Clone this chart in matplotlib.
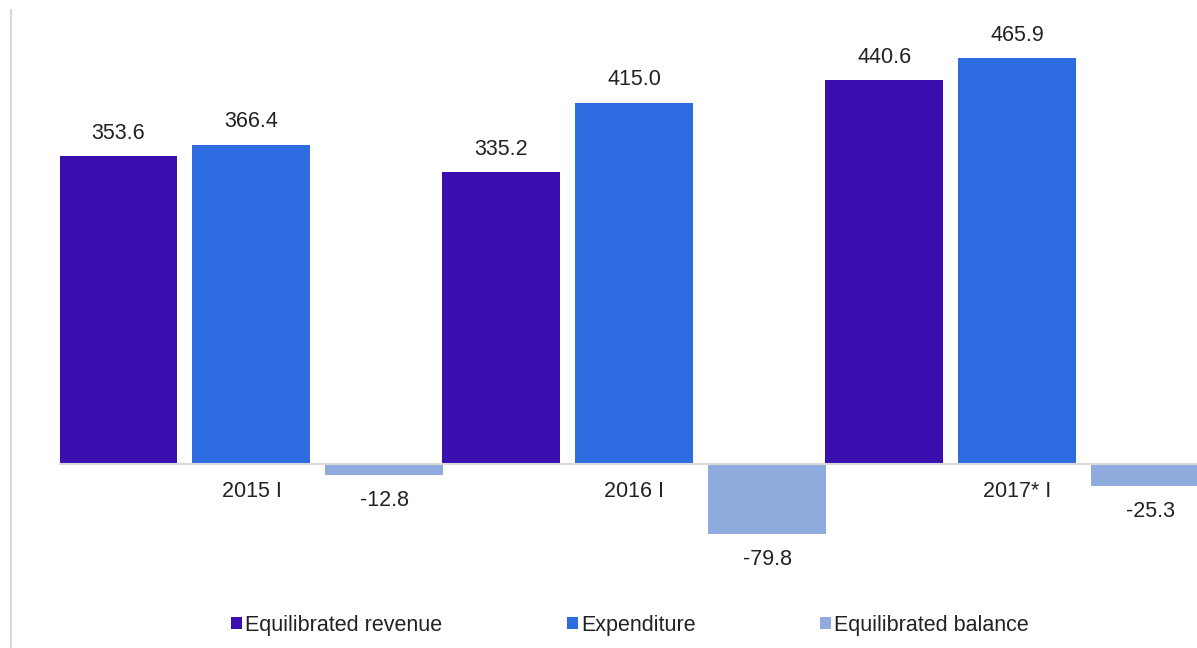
import matplotlib.pyplot as plt
import numpy as np
from matplotlib.patches import Patch
from matplotlib.lines import Line2D

plt.rcParams['font.family'] = ['Liberation Sans', 'DejaVu Sans']

# Data
categories = ['2015 I', '2016 I', '2017* I']
revenue = [353.6, 335.2, 440.6]
expenditure = [366.4, 415.0, 465.9]
balance = [-12.8, -79.8, -25.3]
series_names = ['Equilibrated revenue', 'Expenditure', 'Equilibrated balance']
colors = ['#3A0EAF', '#2C6BE0', '#8FAADC']

W, H = 1197, 648
fig = plt.figure(figsize=(W / 100, H / 100), dpi=100)

# axes spans from px x=60 to right edge, full height
ax = fig.add_axes([60 / W, 0, (W - 60) / W, 1])

# zero line at 464 px from top, 0.871 px per unit
scale = 0.871
ax.set_ylim(-(H - 464) / scale, 464 / scale)
ax.set_xlim(-0.5, 2.4687)

x = np.arange(len(categories))
bar_w = 118 / 383
step = 133 / 383

series = [revenue, expenditure, balance]
for i, (vals, col) in enumerate(zip(series, colors)):
    pos = x + (i - 1) * step
    bars = ax.bar(pos, vals, width=bar_w, color=col, label=series_names[i])
    for b, v in zip(bars, vals):
        if v >= 0:
            ax.annotate(f'{v:.1f}', (b.get_x() + b.get_width() / 2, v),
                        xytext=(0, 9), textcoords='offset points',
                        ha='center', va='bottom', fontsize=15.5, color='#222222')
        else:
            ax.annotate(f'{v:.1f}', (b.get_x() + b.get_width() / 2, v),
                        xytext=(0, -11), textcoords='offset points',
                        ha='center', va='top', fontsize=15.5, color='#222222')

# axis styling
for s in ['top', 'right', 'left']:
    ax.spines[s].set_visible(False)
ax.spines['bottom'].set_position(('data', 0))
ax.spines['bottom'].set_color('#d9d9d9')
ax.spines['bottom'].set_linewidth(1.5)
ax.set_yticks([])
ax.set_xticks(x)
ax.set_xticklabels(categories, fontsize=15.5, color='#222222')
ax.tick_params(axis='x', length=0, pad=12)

# thin vertical line on the left
fig.add_artist(Line2D([11 / W, 11 / W], [0, 1 - 10 / H], color='#d9d9d9', linewidth=1.5))

# legend
handles = [Patch(facecolor=c, edgecolor='none') for c in colors]
fig.legend(handles, series_names, loc='center', bbox_to_anchor=(630 / W, 1 - 625 / H),
           ncol=3, frameon=False, fontsize=15.5, handlelength=0.5, handleheight=0.5,
           handletextpad=0.14, columnspacing=5.8, labelcolor='#222222')

plt.savefig('out.png', dpi=100)
